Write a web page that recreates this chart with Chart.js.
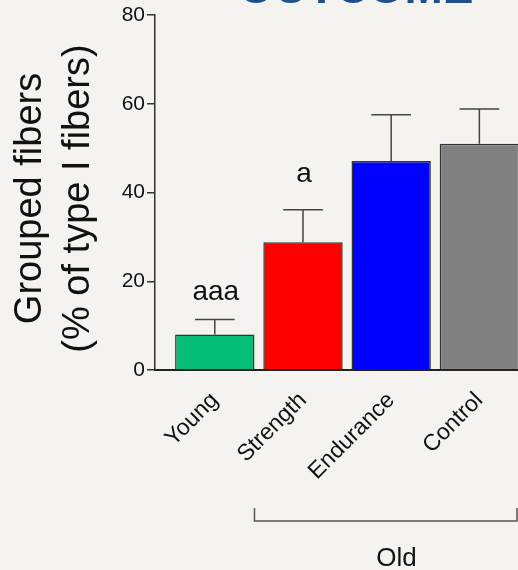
<!DOCTYPE html>
<html><head><meta charset="utf-8">
<script src="https://cdn.jsdelivr.net/npm/chart.js@4/dist/chart.umd.min.js"></script>
<style>
html,body{margin:0;padding:0;background:#f4f3ef;overflow:hidden;}
#wrap{position:relative;width:518px;height:570px;}
</style></head>
<body><div id="wrap"><canvas id="c"></canvas></div>
<script>
const categories = ['Young', 'Strength', 'Endurance', 'Control'];
const means = [8.0, 28.8, 47.1, 51.0];
const sems = [3.4, 7.3, 10.4, 7.8];
const sigLabels = ['aaa', 'a', '', ''];
const yTicks = [0, 20, 40, 60, 80];
const yTitle = ['Grouped fibers', '(% of type I fibers)'];
const groupLabel = 'Old';
const titleText = 'OUTCOME';
const barColors = ['#05bf78', '#ff0000', '#0000ff', '#808080'];

const FONT = '"Liberation Sans", Arial, Helvetica, sans-serif';

const annot = {
  id: 'annot',
  afterDatasetsDraw(chart, args, opts) {
    const {ctx, scales: {x, y}, chartArea} = chart;
    const meta = chart.getDatasetMeta(0);
    ctx.save();
    ctx.strokeStyle = '#444';
    ctx.lineWidth = 1.5;
    meta.data.forEach((bar, i) => {
      const top = y.getPixelForValue(means[i] + sems[i]);
      const base = y.getPixelForValue(means[i]);
      const half = bar.width / 4;
      ctx.beginPath();
      ctx.moveTo(bar.x, base); ctx.lineTo(bar.x, top);
      ctx.moveTo(bar.x - half, top); ctx.lineTo(bar.x + half, top);
      ctx.stroke();
      if (sigLabels[i]) {
        ctx.fillStyle = '#111';
        ctx.font = '28px ' + FONT;
        ctx.textAlign = 'center';
        ctx.textBaseline = 'alphabetic';
        ctx.fillText(sigLabels[i], bar.x + 1, top - opts.sigGap[i]);
      }
    });
    // bracket for "Old"
    const bl = x.getPixelForValue(0.45);
    const br = chartArea.right - 1;
    const b0 = chartArea.bottom + 138, b1 = chartArea.bottom + 151;
    ctx.strokeStyle = '#555';
    ctx.lineWidth = 1.5;
    ctx.beginPath();
    ctx.moveTo(bl, b0); ctx.lineTo(bl, b1); ctx.lineTo(br, b1); ctx.lineTo(br, b0);
    ctx.stroke();
    ctx.fillStyle = '#111';
    ctx.font = '26px ' + FONT;
    ctx.textAlign = 'center';
    ctx.textBaseline = 'alphabetic';
    ctx.fillText(groupLabel, x.getPixelForValue(2.06), chartArea.bottom + 196);
    // y axis title (two lines, rotated)
    ctx.save();
    ctx.font = '38px ' + FONT;
    ctx.textBaseline = 'middle';
    ctx.textAlign = 'center';
    const cy = (chartArea.top + chartArea.bottom) / 2 + 6;
    yTitle.forEach((line, i) => {
      ctx.save();
      ctx.translate(31 + i * 47.5, cy);
      ctx.rotate(-Math.PI / 2);
      ctx.fillText(line, 0, 0);
      ctx.restore();
    });
    ctx.restore();
    // cut-off title
    ctx.fillStyle = '#1f4e8c';
    ctx.font = 'bold 46px ' + FONT;
    ctx.textAlign = 'center';
    ctx.fillText(titleText, 356, 3);
    ctx.restore();
  }
};

new Chart(document.getElementById('c'), {
  type: 'bar',
  data: {
    datasets: [{
      data: means.map((v, i) => ({x: i, y: v})),
      backgroundColor: barColors,
      borderColor: '#333',
      borderWidth: 1.5,
      barPercentage: 0.9,
      categoryPercentage: 1.0
    }]
  },
  options: {
    responsive: true,
    maintainAspectRatio: false,
    devicePixelRatio: 1,
    animation: false,
    layout: {padding: {top: 15, left: 0, right: 0, bottom: 0}},
    plugins: {
      legend: {display: false},
      tooltip: {enabled: false},
      annot: {sigGap: [19, 28]}
    },
    scales: {
      x: {
        type: 'linear',
        offset: false,
        min: -0.678,
        max: 3.438,
        afterBuildTicks(s) { s.ticks = categories.map((c, i) => ({value: i})); },
        afterFit(s) { s.height = 200; },
        grid: {display: false, drawTicks: false, offset: false},
        border: {display: true, color: '#222', width: 2},
        ticks: {
          autoSkip: false,
          minRotation: 45,
          maxRotation: 45,
          padding: 17,
          color: '#111',
          font: {size: 23, family: FONT},
          callback: (v) => categories[v]
        }
      },
      y: {
        min: 0,
        max: 80,
        afterBuildTicks(s) { s.ticks = yTicks.map(v => ({value: v})); },
        afterFit(s) { s.width = 155; },
        grid: {drawOnChartArea: false, drawTicks: true, tickLength: 8, color: '#333', lineWidth: 1.5},
        border: {display: true, color: '#333', width: 1.5},
        ticks: {padding: 2, color: '#111', font: {size: 21, family: FONT}},
        title: {display: false}
      }
    }
  },
  plugins: [annot]
});
</script>
</body></html>
